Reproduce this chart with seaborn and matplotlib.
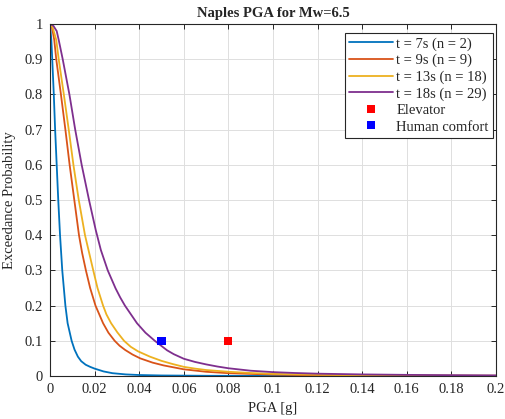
import matplotlib
matplotlib.use("Agg")
import matplotlib.pyplot as plt
from matplotlib.lines import Line2D
from matplotlib.ticker import FuncFormatter
import numpy as np
import pandas as pd
import seaborn as sns

# Exceedance probability curves (PGA [g] vs probability)
pga_7s = [0, 0.0006, 0.001, 0.0017, 0.0023, 0.003, 0.0037, 0.0045, 0.0055, 0.0069,
          0.0079, 0.0097, 0.011, 0.0125, 0.014, 0.016, 0.018, 0.02, 0.024, 0.028,
          0.034, 0.04, 0.05, 0.07, 0.1, 0.2]
prob_7s = [1.0, 0.955, 0.9, 0.8, 0.7, 0.6, 0.5, 0.4, 0.3, 0.2,
           0.15, 0.1, 0.075, 0.055, 0.042, 0.032, 0.026, 0.021, 0.013, 0.008,
           0.0045, 0.0028, 0.0015, 0.0006, 0.0002, 0.0]

pga_9s = [0, 0.0009, 0.0019, 0.0028, 0.0049, 0.0069, 0.0088, 0.0109, 0.013, 0.0144,
          0.0161, 0.018, 0.0204, 0.0238, 0.0262, 0.029, 0.0312, 0.0337, 0.037, 0.0405,
          0.046, 0.051, 0.06, 0.07, 0.08, 0.1, 0.12, 0.15, 0.2]
prob_9s = [1.0, 0.99, 0.955, 0.9, 0.8, 0.7, 0.6, 0.5, 0.4, 0.35,
           0.3, 0.25, 0.2, 0.15, 0.123, 0.1, 0.086, 0.074, 0.061, 0.05,
           0.038, 0.03, 0.019, 0.012, 0.008, 0.004, 0.002, 0.001, 0.0004]

pga_13s = [0, 0.0012, 0.0028, 0.0039, 0.0062, 0.0084, 0.0105, 0.0129, 0.0157, 0.0194,
           0.0213, 0.0238, 0.0253, 0.0274, 0.0302, 0.0332, 0.0362, 0.0395, 0.0448, 0.05,
           0.055, 0.06, 0.065, 0.07, 0.08, 0.09, 0.1, 0.12, 0.14, 0.17, 0.2]
prob_13s = [1.0, 0.99, 0.955, 0.9, 0.8, 0.7, 0.6, 0.5, 0.4, 0.3,
            0.25, 0.2, 0.175, 0.15, 0.124, 0.1, 0.083, 0.07, 0.055, 0.043,
            0.034, 0.026, 0.021, 0.017, 0.012, 0.0085, 0.006, 0.0035, 0.0022, 0.0012, 0.0007]

pga_18s = [0, 0.0015, 0.003, 0.0039, 0.0057, 0.0087, 0.0113, 0.0142, 0.0175, 0.0205,
           0.0228, 0.0259, 0.0294, 0.0315, 0.0336, 0.0363, 0.039, 0.0428, 0.047, 0.0525,
           0.0555, 0.06, 0.065, 0.07, 0.075, 0.08, 0.09, 0.1, 0.11, 0.12, 0.14,
           0.16, 0.18, 0.2]
prob_18s = [1.0, 0.995, 0.98, 0.955, 0.9, 0.8, 0.7, 0.6, 0.5, 0.415,
            0.358, 0.3, 0.249, 0.223, 0.2, 0.175, 0.15, 0.123, 0.1, 0.073,
            0.062, 0.049, 0.04, 0.033, 0.027, 0.022, 0.015, 0.011, 0.0085, 0.0066, 0.0045,
            0.0032, 0.0024, 0.0018]

series_labels = ["t = 7s (n = 2)", "t = 9s (n = 9)", "t = 13s (n = 18)", "t = 18s (n = 29)"]
series_colors = ["#0072BD", "#D95319", "#EDB120", "#7E2F8E"]

# Threshold points
threshold_labels = ["Elevator", "Human comfort"]
threshold_pga = [0.08, 0.05]
threshold_prob = [0.1, 0.1]
threshold_colors = ["#FF0000", "#0000FF"]

curves = pd.concat([
    pd.DataFrame({"PGA": x, "P": y, "series": lab})
    for x, y, lab in zip([pga_7s, pga_9s, pga_13s, pga_18s],
                         [prob_7s, prob_9s, prob_13s, prob_18s], series_labels)
], ignore_index=True)
points = pd.DataFrame({"PGA": threshold_pga, "P": threshold_prob, "name": threshold_labels})

sns.set_style("white")
plt.rcParams["font.family"] = ["Liberation Serif", "DejaVu Serif"]

fig = plt.figure(figsize=(5.06, 4.19), dpi=100)
ax = fig.add_axes([50 / 506, 1 - 376 / 419, 446 / 506, 352 / 419])

sns.lineplot(data=curves, x="PGA", y="P", hue="series", hue_order=series_labels,
             palette=series_colors, linewidth=1.3, sort=False, estimator=None,
             legend=False, ax=ax)
sns.scatterplot(data=points, x="PGA", y="P", hue="name", hue_order=threshold_labels,
                palette=threshold_colors, marker="s", s=34, edgecolor="none",
                legend=False, ax=ax, zorder=5)

ax.set_xlim(0, 0.2)
ax.set_ylim(0, 1)
ax.set_xticks(np.arange(0, 0.2001, 0.02))
ax.set_yticks(np.arange(0, 1.0001, 0.1))
ax.xaxis.set_major_formatter(FuncFormatter(lambda v, p: f"{round(v, 2):g}"))
ax.yaxis.set_major_formatter(FuncFormatter(lambda v, p: f"{round(v, 1):g}"))
ax.grid(True, color="#dedede", linewidth=0.7)
ax.set_axisbelow(True)
ax.tick_params(direction="in", length=3.5, width=0.7, colors="#262626",
               labelsize=10.5, top=True, right=True, bottom=True, left=True, pad=5)
for sp in ax.spines.values():
    sp.set_color("#262626")
    sp.set_linewidth(0.8)

ax.set_xlabel("PGA [g]", fontsize=10.5, color="#262626", labelpad=4)
ax.set_ylabel("Exceedance Probability", fontsize=10.5, color="#262626", labelpad=6)
ax.set_title("Naples PGA for Mw=6.5", fontsize=10.5, fontweight="bold", pad=5)

handles = [Line2D([0], [0], color=c, lw=1.3) for c in series_colors]
handles += [Line2D([0], [0], color=c, marker="s", linestyle="none", markersize=5.5,
                   markeredgewidth=0) for c in threshold_colors]
leg = ax.legend(handles, series_labels + threshold_labels, loc="upper right",
                bbox_to_anchor=(0.993, 0.975), borderaxespad=0, fontsize=10.5,
                handlelength=3.0, handletextpad=0.2, labelspacing=0.22,
                borderpad=0.3, fancybox=False, framealpha=1, edgecolor="#262626")
leg.get_frame().set_linewidth(0.8)

fig.savefig("out.png", dpi=100)
